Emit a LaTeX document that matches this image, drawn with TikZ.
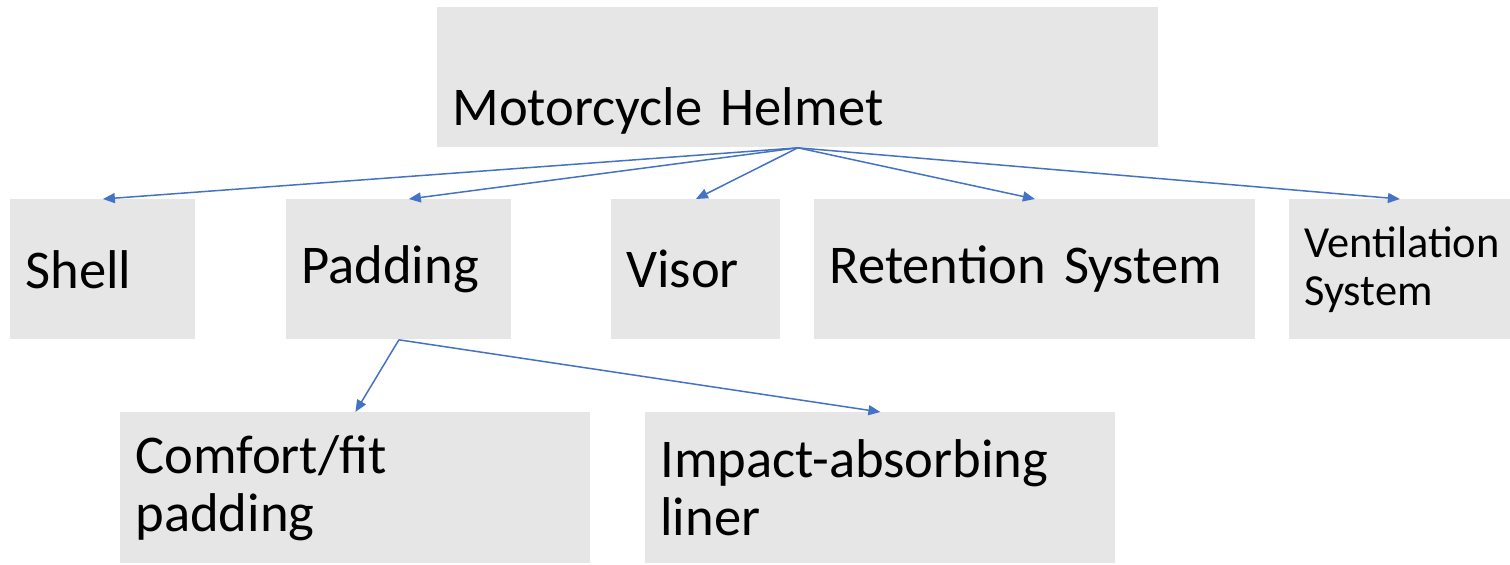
\documentclass[tikz,border=0pt]{standalone}
\usepackage{fontspec}
\setmainfont{Carlito}
\usetikzlibrary{arrows.meta}
\definecolor{boxgray}{RGB}{231,230,230}
\definecolor{linkblue}{RGB}{68,114,196}

\tikzset{
    part/.style={rectangle, fill=boxgray, anchor=north west, inner xsep=7.5pt, inner ysep=0pt,
        align=left, minimum height=70pt, font=\fontsize{27.3}{29}\selectfont},
    link/.style={draw=linkblue, line width=0.75pt, -{Triangle[length=6pt, width=5pt]}}
}

\begin{document}
\begin{tikzpicture}[x=0.5pt, y=-0.5pt]
    \useasboundingbox (0,0) rectangle (1510,564);
    \node [part, text width=345.5pt, text height=59pt, text depth=11pt] (helmet) at (437,7) {Motorcycle Helmet};
    \node [part, text width=77.5pt] (shell) at (10,199) {Shell};
    \node [part, text width=97.5pt] (padding) at (286,199) {Padding};
    \node [part, text width=69.5pt] (visor) at (611,199) {Visor};
    \node [part, text width=205.5pt] (retention) at (814,199) {Retention System};
    \node [part, text width=95.5pt, font=\fontsize{22.2}{24.2}\selectfont] (ventilation) at (1289,199) {Ventilation\\System};
    \node [part, text width=220pt, minimum height=75.5pt] (comfort) at (120,412) {Comfort/fit\\padding};
    \node [part, text width=220pt, minimum height=75.5pt] (impact) at (645,412) {Impact-absorbing\\liner};
    % helmet to its parts
    \draw [link] (helmet.south) -- (shell.north);
    \draw [link] (helmet.south) -- ([xshift=5pt]padding.north);
    \draw [link] (helmet.south) -- (visor.north);
    \draw [link] (helmet.south) -- (retention.north);
    \draw [link] (helmet.south) -- (ventilation.north);
    % padding split
    \draw [link] (padding.south) -- (comfort.north);
    \draw [link] (padding.south) -- (impact.north);
\end{tikzpicture}
\end{document}
